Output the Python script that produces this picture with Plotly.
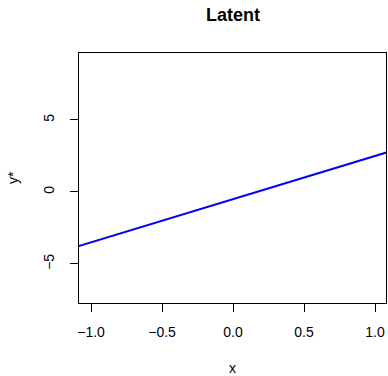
import plotly.graph_objects as go

# Latent linear predictor: y* = intercept + slope * x
intercept = -0.5
slope = 3.0
x_line = [-1.2, 1.2]
y_line = [intercept + slope * v for v in x_line]

x_ticks = [-1.0, -0.5, 0.0, 0.5, 1.0]
x_tick_labels = ["\u22121.0", "\u22120.5", "0.0", "0.5", "1.0"]
y_ticks = [-5, 0, 5]
y_tick_labels = ["\u22125", "0", "5"]

font = "Liberation Sans, Arial, Helvetica, sans-serif"

fig = go.Figure()
fig.add_trace(go.Scatter(x=x_line, y=y_line, mode="lines",
                         line=dict(color="#0000FF", width=2), showlegend=False,
                         cliponaxis=True))

axis_common = dict(showgrid=False, zeroline=False, showline=True, mirror=True,
                   linecolor="black", linewidth=1, ticks="outside", ticklen=8,
                   tickcolor="black", tickwidth=1,
                   tickfont=dict(family=font, size=14, color="black"))

fig.update_layout(
    width=388, height=376,
    margin=dict(l=79, r=2, t=53, b=73),
    paper_bgcolor="white", plot_bgcolor="white",
    font=dict(family=font, color="black"),
    xaxis=dict(range=[-1.085, 1.077], tickvals=x_ticks, ticktext=x_tick_labels,
               ticklabelstandoff=8, **axis_common),
    yaxis=dict(range=[-7.71, 9.65], tickvals=y_ticks, ticktext=y_tick_labels,
               tickangle=-90, ticklabelstandoff=10, **axis_common),
    annotations=[
        dict(text="<b>Latent</b>", x=0.5, y=1, xref="paper", yref="paper",
             xanchor="center", yanchor="middle", yshift=38,
             showarrow=False, font=dict(family=font, size=18, color="black")),
        dict(text="x", x=0.5, y=0, xref="paper", yref="paper",
             xanchor="center", yanchor="middle", yshift=-65,
             showarrow=False, font=dict(family=font, size=14, color="black")),
        dict(text="y*", x=0, y=0.5, xref="paper", yref="paper", textangle=-90,
             xanchor="center", yanchor="middle", xshift=-66,
             showarrow=False, font=dict(family=font, size=14, color="black")),
    ],
)

fig.write_html("out.html")
